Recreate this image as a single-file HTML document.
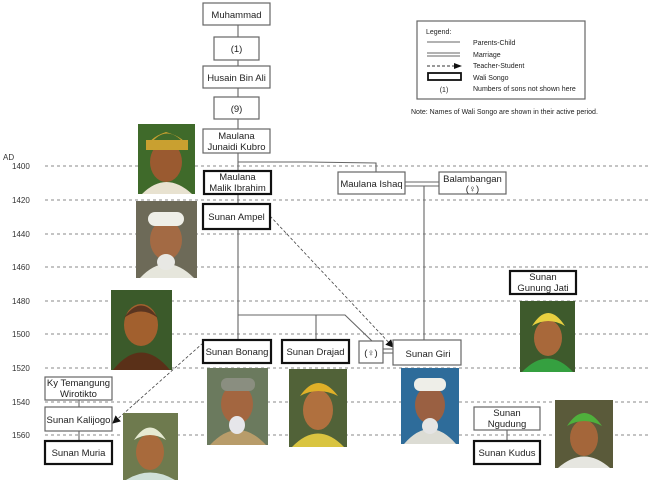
<!DOCTYPE html>
<html><head><meta charset="utf-8"><style>
html,body{margin:0;padding:0;background:#fff;}
svg{display:block;}
text{font-family:"Liberation Sans",sans-serif;fill:#222;}
.b{fill:#fff;stroke:#666;stroke-width:1.2;}
.t{fill:#fff;stroke:#111;stroke-width:2.2;}
.l{stroke:#666;stroke-width:1.1;fill:none;}
.g{stroke:#888;stroke-width:1;stroke-dasharray:3,3;}
.yr{font-size:8px;fill:#333;}
.n{font-size:9.5px;text-anchor:middle;}
</style></head><body>
<svg width="651" height="480" viewBox="0 0 651 480" xmlns="http://www.w3.org/2000/svg">
<defs>
<marker id="ar" markerWidth="8" markerHeight="8" refX="7" refY="4" orient="auto" markerUnits="userSpaceOnUse"><path d="M0,0 L8,4 L0,8 z" fill="#111"/></marker>
</defs>
<text x="3" y="160" class="yr">AD</text>
<g>
<line x1="45" y1="166" x2="651" y2="166" class="g"/><text x="12" y="169" class="yr">1400</text>
<line x1="45" y1="200" x2="651" y2="200" class="g"/><text x="12" y="203" class="yr">1420</text>
<line x1="45" y1="234" x2="651" y2="234" class="g"/><text x="12" y="237" class="yr">1440</text>
<line x1="45" y1="267" x2="651" y2="267" class="g"/><text x="12" y="270" class="yr">1460</text>
<line x1="45" y1="301" x2="651" y2="301" class="g"/><text x="12" y="304" class="yr">1480</text>
<line x1="45" y1="334" x2="651" y2="334" class="g"/><text x="12" y="337" class="yr">1500</text>
<line x1="45" y1="368" x2="651" y2="368" class="g"/><text x="12" y="371" class="yr">1520</text>
<line x1="45" y1="402" x2="651" y2="402" class="g"/><text x="12" y="405" class="yr">1540</text>
<line x1="45" y1="435" x2="651" y2="435" class="g"/><text x="12" y="438" class="yr">1560</text>
</g>

<line x1="238" y1="25" x2="238" y2="340" class="l"/>
<polyline points="238,162 307,162 376,163 376,172" class="l"/>
<line x1="405" y1="182" x2="439" y2="182" class="l"/><line x1="405" y1="186" x2="439" y2="186" class="l"/>
<line x1="424" y1="186" x2="424" y2="340" class="l"/>
<polyline points="238,315 345,315 372,341" class="l"/>
<line x1="316" y1="315" x2="316" y2="340" class="l"/>
<line x1="383" y1="349" x2="394" y2="349" class="l"/><line x1="383" y1="353" x2="394" y2="353" class="l"/>
<line x1="79" y1="400" x2="79" y2="441" class="l"/>
<line x1="507" y1="430" x2="507" y2="441" class="l"/>
<line x1="270" y1="216" x2="393" y2="347" stroke="#444" stroke-width="0.8" stroke-dasharray="3,2" marker-end="url(#ar)"/>
<line x1="203" y1="343" x2="113" y2="423" stroke="#444" stroke-width="0.8" stroke-dasharray="3,2" marker-end="url(#ar)"/>

<rect x="203" y="3" width="67" height="22" class="b"/><text x="236.5" y="18" class="n">Muhammad</text>
<rect x="214" y="37" width="45" height="23" class="b"/><text x="236.5" y="52" class="n">(1)</text>
<rect x="203" y="66" width="67" height="22" class="b"/><text x="236.5" y="81" class="n">Husain Bin Ali</text>
<rect x="214" y="97" width="45" height="22" class="b"/><text x="236.5" y="112" class="n">(9)</text>
<rect x="203" y="129" width="67" height="24" class="b"/><text x="236.5" y="139" class="n">Maulana</text><text x="236.5" y="150" class="n">Junaidi Kubro</text>
<rect x="204" y="171" width="67" height="23" class="t"/><text x="237.5" y="180" class="n">Maulana</text><text x="237.5" y="191" class="n">Malik Ibrahim</text>
<rect x="338" y="172" width="67" height="22" class="b"/><text x="371.5" y="187" class="n">Maulana Ishaq</text>
<rect x="439" y="172" width="67" height="22" class="b"/><text x="472.5" y="182" class="n">Balambangan</text><text x="472.5" y="192" class="n">(♀)</text>
<rect x="203" y="204" width="67" height="25" class="t"/><text x="236.5" y="220" class="n">Sunan Ampel</text>
<rect x="203" y="340" width="68" height="23" class="t"/><text x="237" y="355" class="n">Sunan Bonang</text>
<rect x="282" y="340" width="67" height="23" class="t"/><text x="315.5" y="355" class="n">Sunan Drajad</text>
<rect x="359" y="341" width="24" height="22" class="b"/><text x="371" y="356" class="n">(♀)</text>
<rect x="393" y="340" width="68" height="25" class="b" stroke-width="3"/><rect x="394.5" y="341.5" width="65" height="22" fill="none" stroke="#fff" stroke-width="1"/><text x="428" y="357" class="n">Sunan Giri</text>
<rect x="510" y="271" width="66" height="23" class="t"/><text x="543" y="280" class="n">Sunan</text><text x="543" y="291" class="n">Gunung Jati</text>
<rect x="45" y="377" width="67" height="23" class="b"/><text x="78.5" y="386" class="n">Ky Temangung</text><text x="78.5" y="397" class="n">Wirotikto</text>
<rect x="45" y="407" width="67" height="24" class="b" stroke-width="3"/><rect x="46.5" y="408.5" width="64" height="21" fill="none" stroke="#fff" stroke-width="1"/><text x="78.5" y="423" class="n">Sunan Kalijogo</text>
<rect x="45" y="441" width="67" height="23" class="t"/><text x="78.5" y="456" class="n">Sunan Muria</text>
<rect x="474" y="407" width="66" height="23" class="b"/><text x="507" y="416" class="n">Sunan</text><text x="507" y="427" class="n">Ngudung</text>
<rect x="474" y="441" width="66" height="23" class="t"/><text x="507" y="456" class="n">Sunan Kudus</text>

<rect x="417" y="21" width="168" height="78" class="b"/>
<text x="426" y="34" font-size="7">Legend:</text>
<line x1="427" y1="42" x2="460" y2="42" class="l"/><text x="473" y="45" font-size="7">Parents-Child</text>
<line x1="427" y1="53" x2="460" y2="53" class="l"/><line x1="427" y1="56" x2="460" y2="56" class="l"/><text x="473" y="57" font-size="7">Marriage</text>
<line x1="427" y1="66" x2="456" y2="66" stroke="#333" stroke-width="0.9" stroke-dasharray="3,2"/><path d="M454,63 L462,66 L454,69z" fill="#111"/><text x="473" y="68" font-size="7">Teacher-Student</text>
<rect x="428" y="73" width="33" height="7" fill="#fff" stroke="#111" stroke-width="1.8"/><text x="473" y="80" font-size="7">Wali Songo</text>
<text x="444" y="92" font-size="7" text-anchor="middle">(1)</text><text x="473" y="91" font-size="7">Numbers of sons not shown here</text>
<text x="411" y="114" font-size="7">Note: Names of Wali Songo are shown in their active period.</text>

<g>
<rect x="138" y="124" width="57" height="70" fill="#3f6a2a"/>
<path d="M142,194 Q166,170 192,194z" fill="#e8e2d0"/>
<ellipse cx="166" cy="162" rx="16" ry="20" fill="#9a5a30"/>
<path d="M146,150 Q166,118 188,148 Q186,138 166,132 Q148,138 146,150z" fill="#c9a030"/>
<rect x="146" y="140" width="42" height="10" fill="#c9a030"/>
<rect x="136" y="201" width="61" height="77" fill="#6d6a58"/>
<path d="M140,278 Q166,250 194,278z" fill="#e6e6dc"/>
<ellipse cx="166" cy="240" rx="16" ry="20" fill="#a36a44"/>
<rect x="148" y="212" width="36" height="14" rx="7" fill="#efefe8"/>
<ellipse cx="166" cy="262" rx="9" ry="8" fill="#e8e8e4"/>
<rect x="111" y="290" width="61" height="80" fill="#3b5a2a"/>
<path d="M113,370 Q141,335 170,370z" fill="#5a3018"/>
<ellipse cx="141" cy="325" rx="17" ry="21" fill="#a2602e"/>
<path d="M124,318 Q141,293 158,318 Q141,305 124,318z" fill="#5a3520"/>
<rect x="207" y="368" width="61" height="77" fill="#6b7a5e"/>
<path d="M210,445 Q238,415 266,445z" fill="#b89c6a"/>
<ellipse cx="237" cy="404" rx="16" ry="20" fill="#a36640"/>
<rect x="221" y="378" width="34" height="13" rx="6" fill="#8a8e80"/>
<ellipse cx="237" cy="425" rx="8" ry="9" fill="#e6e6ea"/>
<rect x="289" y="369" width="58" height="78" fill="#516238"/>
<path d="M292,447 Q318,420 344,447z" fill="#d9c440"/>
<ellipse cx="318" cy="410" rx="15" ry="20" fill="#b0703e"/>
<path d="M300,396 Q318,370 338,396 Q318,386 300,396z" fill="#e0b028"/>
<rect x="401" y="368" width="58" height="76" fill="#2e6c9a"/>
<path d="M404,444 Q430,414 456,444z" fill="#dcdcd4"/>
<ellipse cx="430" cy="405" rx="15" ry="19" fill="#9a6042"/>
<rect x="414" y="378" width="32" height="13" rx="6" fill="#eeeee8"/>
<ellipse cx="430" cy="426" rx="8" ry="8" fill="#e4e4e4"/>
<rect x="520" y="301" width="55" height="71" fill="#3e5a2c"/>
<path d="M522,372 Q548,345 573,372z" fill="#35a040"/>
<ellipse cx="548" cy="338" rx="14" ry="18" fill="#a8683a"/>
<path d="M532,326 Q548,300 565,326 Q548,316 532,326z" fill="#e8d040"/>
<rect x="123" y="413" width="55" height="67" fill="#6e7a4e"/>
<ellipse cx="150" cy="452" rx="14" ry="18" fill="#a86a3c"/>
<path d="M134,440 Q150,415 166,440 Q150,430 134,440z" fill="#e6ead2"/>
<path d="M126,480 Q150,465 175,480z" fill="#cfe0d8"/>
<rect x="555" y="400" width="58" height="68" fill="#5a5a3a"/>
<path d="M558,468 Q584,445 610,468z" fill="#e6e6e0"/>
<ellipse cx="584" cy="438" rx="14" ry="18" fill="#a4663a"/>
<path d="M567,426 Q584,400 602,426 Q584,416 567,426z" fill="#4fb03c"/>
</g>
</svg>
</body></html>
